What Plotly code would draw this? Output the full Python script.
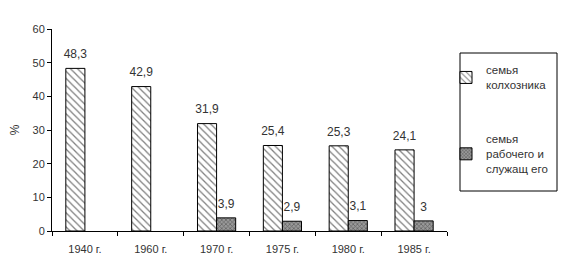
import plotly.graph_objects as go

categories = ["1940 г.", "1960 г.", "1970 г.", "1975 г.", "1980 г.", "1985 г."]
kolkhoz = [48.3, 42.9, 31.9, 25.4, 25.3, 24.1]
workers = [None, None, 3.9, 2.9, 3.1, 3.0]
series_names = ["семья<br>колхозника", "семья<br>рабочего и<br>служащ его"]
y_ticks = [0, 10, 20, 30, 40, 50, 60]


def fmt(v):
    if v is None:
        return ""
    s = ("%.1f" % v).rstrip("0").rstrip(".")
    return s.replace(".", ",")


fig = go.Figure()
fig.add_trace(go.Bar(
    x=categories, y=kolkhoz, name=series_names[0], legendgroup="a",
    offsetgroup="1",
    marker=dict(color="white", line=dict(color="black", width=1),
                pattern=dict(shape="\\", fgcolor="black", bgcolor="white",
                             size=5, solidity=0.25, fillmode="overlay")),
))
fig.add_trace(go.Bar(
    x=categories, y=workers, name=series_names[1], legendgroup="b",
    offsetgroup="2",
    marker=dict(color="#777777", line=dict(color="black", width=1),
                pattern=dict(shape="x", fgcolor="#222222", bgcolor="#999999",
                             size=3, solidity=0.4, fillmode="overlay")),
))
# value labels, grouped like the bars
for i, vals in enumerate([kolkhoz, workers]):
    fig.add_trace(go.Scatter(
        x=categories, y=vals, mode="markers+text",
        text=[fmt(v) for v in vals], textposition="top center",
        textfont=dict(size=12, color="#333333"),
        marker=dict(size=10, color="rgba(0,0,0,0)"),
        offsetgroup=str(i + 1), showlegend=False, hoverinfo="skip",
        cliponaxis=False,
    ))

fig.update_layout(
    width=578, height=263,
    margin=dict(l=52, r=131, t=29, b=32),
    paper_bgcolor="white", plot_bgcolor="white",
    barmode="group", bargap=0.42, bargroupgap=0,
    scattermode="group", scattergap=0.42,
    font=dict(family="Liberation Sans, Arial, sans-serif", size=11, color="#333333"),
    showlegend=True,
    legend=dict(x=(446 - 52) / 395, y=(231 - 56) / 202, xanchor="left", yanchor="top",
                borderwidth=0, bgcolor="rgba(0,0,0,0)",
                font=dict(size=11.5, color="#333333"),
                tracegroupgap=36, itemwidth=30),
    shapes=[dict(type="rect", xref="paper", yref="paper",
                 x0=(460 - 52) / 395, x1=(557 - 52) / 395,
                 y0=(231 - 191) / 202, y1=(231 - 53) / 202,
                 line=dict(color="black", width=1), fillcolor="rgba(0,0,0,0)",
                 layer="below")],
    xaxis=dict(showline=True, linecolor="black", linewidth=1, automargin=False,
               ticks="outside", tickson="boundaries", ticklen=4, tickcolor="black",
               ticklabelstandoff=8,
               showgrid=False, tickfont=dict(size=11)),
    yaxis=dict(range=[0, 60], tickvals=y_ticks, showline=True, linecolor="black",
               linewidth=1, ticks="outside", ticklen=4, tickcolor="black",
               showgrid=False, zeroline=False, tickfont=dict(size=11),
               automargin=False,
               title=dict(text="%", font=dict(size=12), standoff=10)),
)

fig.write_html("out.html")
